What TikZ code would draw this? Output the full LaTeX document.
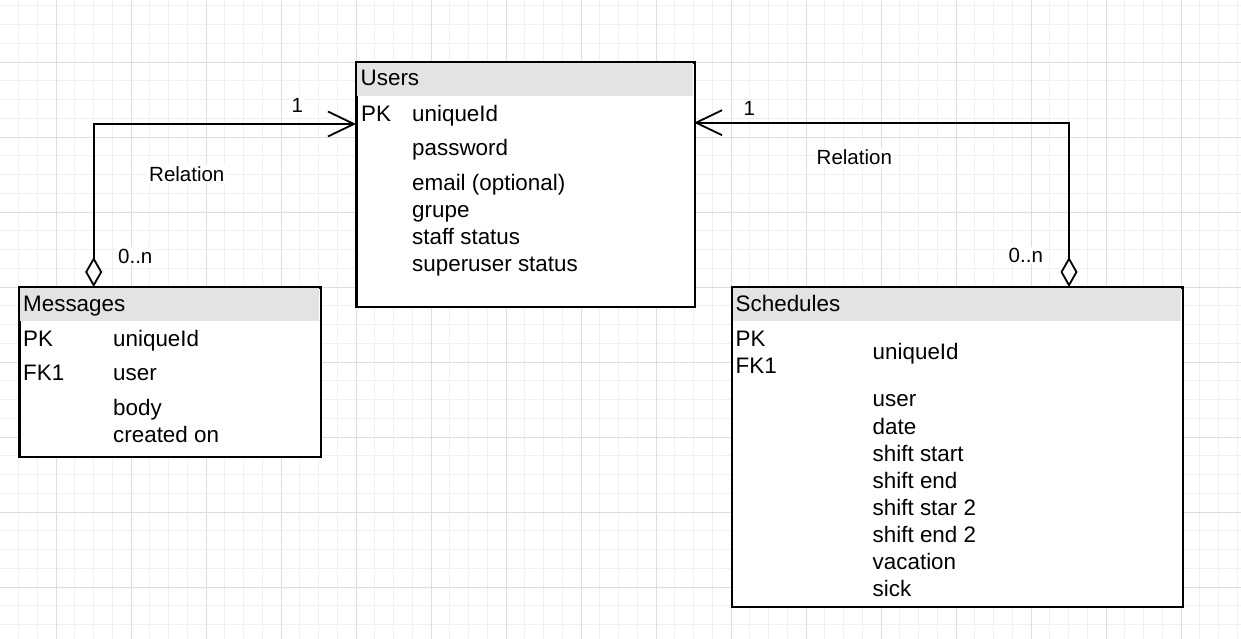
\documentclass[tikz,border=0pt]{standalone}
\usepackage{fontspec}
\setmainfont{Liberation Sans}
\usetikzlibrary{arrows.meta}
\definecolor{hdrgray}{HTML}{E3E3E3}
\definecolor{minorgrid}{HTML}{F0F0F0}
\definecolor{majorgrid}{HTML}{DEDEDE}
\begin{document}
\begin{tikzpicture}[x=1pt,y=-1pt,
  txt/.style={anchor=base west, inner sep=0pt, font=\fontsize{22.4}{26}\selectfont},
  lbl/.style={anchor=base west, fill=white, inner sep=1.5pt, font=\fontsize{20.5}{24}\selectfont},
  tbl/.style={draw=black, line width=1.6pt, fill=white, anchor=north west, inner sep=0pt},
  hdr/.style={fill=hdrgray, anchor=north west, inner sep=0pt, minimum height=33.2pt},
  conn/.style={line width=1.8pt, draw=black},
  endtips/.style={{Diamond[open,fill=white,length=30pt,width=17pt]}-{Straight Barb[length=26pt,width=25pt]}}
]
\useasboundingbox[fill=white] (0,0) rectangle (1241,639);
% grid
\foreach \i in {0,...,66} {\draw[minorgrid, line width=0.8pt] ({18.5+18.75*\i},0) -- ({18.5+18.75*\i},639);}
\foreach \i in {0,...,34} {\draw[minorgrid, line width=0.8pt] (0,{5.75+18.75*\i}) -- (1241,{5.75+18.75*\i});}
\foreach \i in {0,...,16} {\draw[majorgrid, line width=0.9pt] ({56+75*\i},0) -- ({56+75*\i},639);}
\foreach \i in {0,...,8} {\draw[majorgrid, line width=0.9pt] (0,{62+75*\i}) -- (1241,{62+75*\i});}

% Users
\node[tbl, minimum width=338pt, minimum height=243.5pt] (users) at (356,62) {};
\node[hdr, minimum width=336.4pt] (usersh) at (356.8,62.8) {};
\draw[line width=1.6pt] (users.north west) rectangle (users.south east);
\node[txt] (ut) at (360.5,86) {Users};
\node[txt] (upk) at (361,122) {PK};
\node[txt] (u1) at (412,122) {uniqueId};
\node[txt] (u2) at (412,155.5) {password};
\node[txt] (u3) at (412,190) {email (optional)};
\node[txt] (u4) at (412,217) {grupe};
\node[txt] (u5) at (412,244) {staff status};
\node[txt] (u6) at (412,271) {superuser status};

% Messages
\node[tbl, minimum width=300.5pt, minimum height=168.5pt] (msgs) at (19,287) {};
\node[hdr, minimum width=298.9pt] (msgsh) at (19.8,287.8) {};
\draw[line width=1.6pt] (msgs.north west) rectangle (msgs.south east);
\node[txt] (mt) at (23,311.5) {Messages};
\node[txt] (mpk) at (23,346.5) {PK};
\node[txt] (m1) at (113,346.5) {uniqueId};
\node[txt] (mfk) at (23,380.5) {FK1};
\node[txt] (m2) at (113,380.5) {user};
\node[txt] (m3) at (113,415.5) {body};
\node[txt] (m4) at (113,442.3) {created on};

% Schedules
\node[tbl, minimum width=450.5pt, minimum height=318.5pt] (sch) at (731.5,287) {};
\node[hdr, minimum width=448.9pt] (schh) at (732.3,287.8) {};
\draw[line width=1.6pt] (sch.north west) rectangle (sch.south east);
\node[txt] (st) at (735.5,311.5) {Schedules};
\node[txt] (spk) at (735.5,346.5) {PK};
\node[txt] (sfk) at (735.5,373.5) {FK1};
\node[txt] (s1) at (872.5,359.5) {uniqueId};
\node[txt] (s2) at (872.5,406.5) {user};
\node[txt] (s3) at (872.5,434) {date};
\node[txt] (s4) at (872.5,461.5) {shift start};
\node[txt] (s5) at (872.5,488.5) {shift end};
\node[txt] (s6) at (872.5,515.5) {shift star 2};
\node[txt] (s7) at (872.5,542.5) {shift end 2};
\node[txt] (s8) at (872.5,569.5) {vacation};
\node[txt] (s9) at (872.5,596) {sick};

% connectors
\coordinate (mtop) at (93.7,287);
\coordinate (uleft) at (356,124);
\coordinate (stop) at (1069,287);
\coordinate (uright) at (694,122.7);
\draw[conn, endtips] (mtop) |- (uleft);
\draw[conn, endtips] (stop) |- (uright);

% labels
\node[lbl] (l1) at (290,113) {1};
\node[lbl] (l2) at (147.5,181.5) {Relation};
\node[lbl] (l3) at (116.5,263.3) {0..n};
\node[lbl] (r1) at (742,115.7) {1};
\node[lbl] (r2) at (815,165) {Relation};
\node[lbl] (r3) at (1007,262.7) {0..n};
\end{tikzpicture}
\end{document}
